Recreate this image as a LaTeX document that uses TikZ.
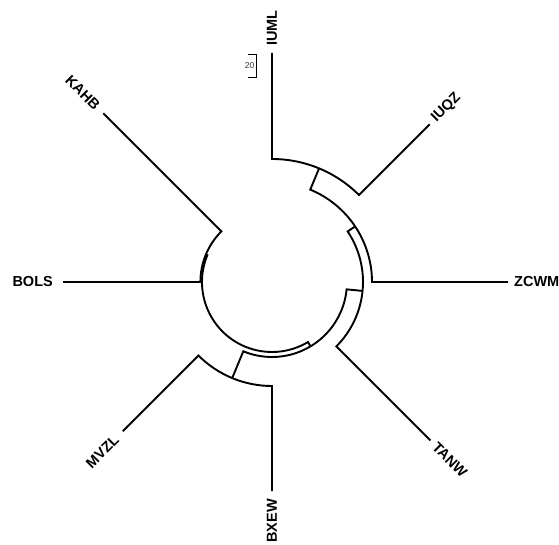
\documentclass[tikz,border=0pt]{standalone}
\usepackage{fontspec}
\setmainfont{Liberation Sans}
\newcommand\lblfont{\fontsize{14.5}{17}\selectfont\bfseries}
\begin{document}
\begin{tikzpicture}[x=1pt,y=1pt,
  br/.style={line width=1.9pt, line join=miter},
  lab/.style={font=\lblfont, inner sep=0pt},
  sbar/.style={line width=0.8pt}]
\useasboundingbox (0,0) rectangle (559,544);
\begin{scope}[shift={(272,262)}]
% tips: outer ends
\coordinate (iumlT) at (90:229pt);
\coordinate (iuqzT) at (45:223pt);
\coordinate (zcwmT) at (0:236pt);
\coordinate (tanwT) at (-45:224pt);
\coordinate (bxewT) at (-90:209pt);
\coordinate (mvzlT) at (-135:211pt);
\coordinate (bolsT) at (180:209pt);
\coordinate (kahbT) at (135:238.5pt);
% tip bases
\coordinate (iumlB) at (90:123pt);
\coordinate (mvzlB) at (-135:104pt);
\coordinate (kahbB) at (135:71.6pt);
% internal nodes
\coordinate (n1) at (67.5:123pt);   \coordinate (n1b) at (67.5:100pt);
\coordinate (n2) at (33.75:100pt);  \coordinate (n2b) at (33.75:91pt);
\coordinate (n3) at (-5.625:91pt);  \coordinate (n3b) at (-5.625:75pt);
\coordinate (n4) at (-112.5:104pt);
\coordinate (n5) at (-59.0625:75pt);
\coordinate (n6) at (157.5:71.6pt); \coordinate (n6b) at (157.5:70pt);
% branches
\draw[br] (iumlT) -- (iumlB) arc[start angle=90,end angle=45,radius=123pt] -- (iuqzT);
\draw[br] (n1) -- (n1b) arc[start angle=67.5,end angle=0,radius=100pt] -- (zcwmT);
\draw[br] (n2) -- (n2b) arc[start angle=33.75,end angle=-45,radius=91pt] -- (tanwT);
\draw[br] (mvzlT) -- (mvzlB) arc[start angle=-135,end angle=-90,radius=104pt] -- (bxewT);
\draw[br] (n3) -- (n3b) arc[start angle=-5.625,end angle=-112.5,radius=75pt] -- (n4);
\draw[br] (kahbT) -- (kahbB) arc[start angle=135,end angle=180,radius=71.6pt] -- (bolsT);
\draw[br] (n6) -- (n6b) arc[start angle=157.5,end angle=300.9375,radius=70pt] -- (n5);
% labels
\node[lab, anchor=west, rotate=90]  (iuml) at (90:236pt) {IUML};
\node[lab, anchor=west, rotate=45]  (iuqz) at (45:229pt) {IUQZ};
\node[lab, anchor=west]             (zcwm) at (0:242pt) {ZCWM};
\node[lab, anchor=west, rotate=-45] (tanw) at (-45:230pt) {TANW};
\node[lab, anchor=east, rotate=90]  (bxew) at (-90:217pt) {BXEW};
\node[lab, anchor=east, rotate=45]  (mvzl) at (-135:220pt) {MVZL};
\node[lab, anchor=east]             (bols) at (180:219pt) {BOLS};
\node[lab, anchor=east, rotate=-45] (kahb) at (135:246.5pt) {KAHB};
\end{scope}
% scale bar
\coordinate (sbTL) at (248,490);
\coordinate (sbT) at (256,490);
\coordinate (sbB) at (256,467);
\coordinate (sbBL) at (248,467);
\draw[sbar] (sbTL) -- (sbT) -- (sbB) -- (sbBL);
\node[font=\fontsize{8.5}{9}\selectfont, text=black!80, inner sep=0pt] (sblab) at (249.5,478) {20};
\end{tikzpicture}
\end{document}
